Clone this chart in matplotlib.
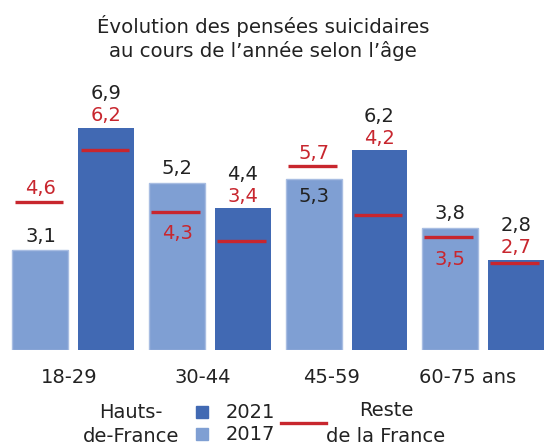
import matplotlib
matplotlib.use("Agg")
import matplotlib.pyplot as plt
from matplotlib.patches import Rectangle
from matplotlib.lines import Line2D
import numpy as np

plt.rcParams['font.family'] = ['DejaVu Sans']

categories = ["18-29", "30-44", "45-59", "60-75 ans"]
hdf_2017 = [3.1, 5.2, 5.3, 3.8]
hdf_2021 = [6.9, 4.4, 6.2, 2.8]
reste_2017 = [4.6, 4.3, 5.7, 3.5]
reste_2021 = [6.2, 3.4, 4.2, 2.7]

# label placement of the red "Reste de la France" value for each bar
red_place_2017 = ["above_line", "below_line", "above_line", "below_line"]
black_inside_2017 = [False, False, True, False]

C_DARK = "#4169B3"
C_LIGHT = "#7F9FD3"
C_RED = "#C8262E"
C_TXT = "#222222"

W, H = 545, 445
fig = plt.figure(figsize=(W / 100, H / 100), dpi=100)
ax = fig.add_axes([0, (H - 350) / H, 1, 350 / H])

pitch_px = 136.7
px_per_unit = 32.2
x = np.arange(len(categories))
bw = 56 / pitch_px
off = 33 / pitch_px
ax.set_xlim(-73.5 / pitch_px, 3 + (545 - 483) / pitch_px)
ax.set_ylim(0, 350 / px_per_unit)

ax.bar(x - off, hdf_2017, width=bw, color=C_LIGHT, edgecolor="#A8BDE2", linewidth=1.0)
ax.bar(x + off, hdf_2021, width=bw, color=C_DARK, linewidth=0)

lw_frac = 0.46
for xs, vals in ((x - off, reste_2017), (x + off, reste_2021)):
    for xi, v in zip(xs, vals):
        ax.plot([xi - lw_frac * bw, xi + lw_frac * bw - 0.02], [v, v], color=C_RED,
                lw=2.4, solid_capstyle="butt")

fs = 14
def lab(xi, y, dy_px, text, color):
    ax.annotate(text, (xi, y), xytext=(0, dy_px * 0.72), textcoords="offset points",
                ha="center", va="center", fontsize=fs, color=color)

fmt = lambda v: f"{v:.1f}".replace(".", ",")

for i in range(len(categories)):
    # 2017
    xi = x[i] - off
    if black_inside_2017[i]:
        lab(xi, hdf_2017[i], -17, fmt(hdf_2017[i]), C_TXT)
    else:
        lab(xi, hdf_2017[i], 14, fmt(hdf_2017[i]), C_TXT)
    if red_place_2017[i] == "above_line":
        lab(xi, reste_2017[i], 13, fmt(reste_2017[i]), C_RED)
    else:
        lab(xi, reste_2017[i], -22, fmt(reste_2017[i]), C_RED)
    # 2021: red value stacked just above the bar, black value above it
    xi = x[i] + off
    lab(xi, hdf_2021[i], 12, fmt(reste_2021[i]), C_RED)
    lab(xi, hdf_2021[i], 34, fmt(hdf_2021[i]), C_TXT)

for s in ax.spines.values():
    s.set_visible(False)
ax.set_yticks([])
tick_shift = [-0.03, -0.05, -0.11, -0.11]
ax.set_xticks(x + np.array(tick_shift))
ax.set_xticklabels(categories, fontsize=fs, color=C_TXT)
ax.tick_params(axis="x", length=0, pad=13)

# title
fig.text(263 / W, 1 - 57 / H, "Évolution des pensées suicidaires\nau cours de l’année selon l’âge",
         ha="center", va="baseline", fontsize=14.2, color=C_TXT, linespacing=1.25)

# legend
def fy(py):
    return 1 - py / H
fig.text(131 / W, fy(412), "Hauts-", ha="center", va="center", fontsize=fs, color=C_TXT)
fig.text(131 / W, fy(437), "de-France", ha="center", va="center", fontsize=fs, color=C_TXT)
fig.patches.append(Rectangle((196 / W, fy(418)), 12 / W, 12 / H, transform=fig.transFigure,
                             color=C_DARK, figure=fig))
fig.patches.append(Rectangle((196 / W, fy(440)), 12 / W, 12 / H, transform=fig.transFigure,
                             color=C_LIGHT, figure=fig))
fig.text(250 / W, fy(412), "2021", ha="center", va="center", fontsize=fs, color=C_TXT)
fig.text(250 / W, fy(434), "2017", ha="center", va="center", fontsize=fs, color=C_TXT)
fig.lines.append(Line2D([281 / W, 326 / W], [fy(423), fy(423)], transform=fig.transFigure,
                        color=C_RED, lw=2.4, figure=fig))
fig.text(386 / W, fy(411), "Reste", ha="center", va="center", fontsize=fs, color=C_TXT)
fig.text(386 / W, fy(436), "de la France", ha="center", va="center", fontsize=fs, color=C_TXT)

fig.savefig("out.png", dpi=100)
